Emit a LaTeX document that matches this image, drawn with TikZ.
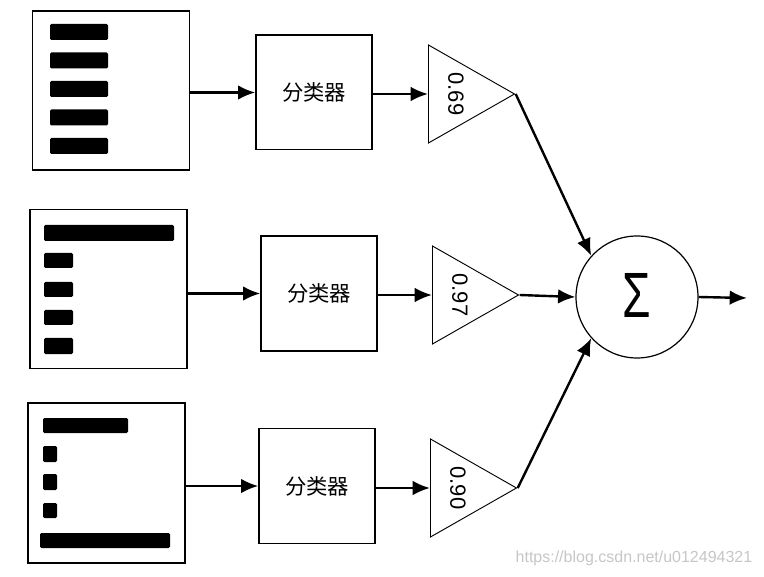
\documentclass[tikz,border=0pt]{standalone}
\usepackage{fontspec}
\setmainfont{Liberation Sans}
\newfontfamily\cjk{Noto Sans CJK SC}
\usetikzlibrary{arrows.meta,shapes.geometric}

\begin{document}
\begin{tikzpicture}[x=0.75pt, y=-0.75pt, every node/.style={font=\fontsize{15}{15}\selectfont}]
  \tikzset{
    inbox/.style={draw, line width=1.2pt, minimum width=118pt, minimum height=119pt, inner sep=0pt},
    clsbox/.style={draw, line width=1pt, minimum width=87pt, minimum height=86pt, font=\cjk\fontsize{16}{16}\selectfont},
    gain/.style={draw, line width=0.7pt, isosceles triangle, isosceles triangle stretches, minimum width=73.5pt, minimum height=64.5pt, inner sep=0pt, anchor=west},
    gaintext/.style={rotate=-90, inner sep=0pt, font=\fontsize{16.5}{16.5}\selectfont},
    bar/.style={fill=black, rounded corners=1pt},
    arr/.style={-{Latex[length=13pt, width=11pt]}, line width=1.8pt}
  }
  \useasboundingbox (0,0) rectangle (764,577);

  % Row 1: five equal bars
  \node[inbox] (in1) at (111,90.5) {};
  \fill[bar] (50,24) rectangle (108,40);
  \fill[bar] (50,52.5) rectangle (108,68.5);
  \fill[bar] (50,81) rectangle (108,97);
  \fill[bar] (50,109.5) rectangle (108,125.5);
  \fill[bar] (50,138) rectangle (108,154);
  \node[clsbox] (cls1) at (314,92.5) {分类器};
  \node[gain] (tri1) at (428,94) {};
  \node[gaintext] (g1) at ([xshift=21pt]tri1.west) {0.69};

  % Row 2: one long bar on top
  \node[inbox] (in2) at (108.5,289) {};
  \fill[bar] (44,225) rectangle (174,241);
  \fill[bar] (44,253) rectangle (73,268);
  \fill[bar] (44,282) rectangle (73,297);
  \fill[bar] (44,310) rectangle (73,325);
  \fill[bar] (44,338) rectangle (73,354);
  \node[clsbox] (cls2) at (319,293.5) {分类器};
  \node[gain] (tri2) at (432,295) {};
  \node[gaintext] (g2) at ([xshift=21pt]tri2.west) {0.97};

  % Row 3: long bar at the bottom
  \node[inbox, minimum height=120pt] (in3) at (106.5,483) {};
  \fill[bar] (43,418) rectangle (128,433);
  \fill[bar] (43,446) rectangle (57,462);
  \fill[bar] (43,474) rectangle (57,490);
  \fill[bar] (43,503) rectangle (57,518);
  \fill[bar] (40,533) rectangle (170,548);
  \node[clsbox] (cls3) at (317,486) {分类器};
  \node[gain] (tri3) at (430,488) {};
  \node[gaintext] (g3) at ([xshift=21pt]tri3.west) {0.90};

  % Sum
  \node[circle, draw, line width=0.9pt, minimum size=91.5pt, inner sep=0pt, font=\fontsize{48}{48}\selectfont] (sum) at (637,297) {\raisebox{3pt}{\scalebox{0.72}[1]{Σ}}};
  \coordinate (out) at (747,298);

  \draw[arr] (in1.east |- cls1.west) -- (cls1.west);
  \draw[arr] (in2.east |- cls2.west) -- (cls2.west);
  \draw[arr] (in3.east |- cls3.west) -- (cls3.west);
  \draw[arr] (cls1.east |- tri1.west) -- (tri1.west);
  \draw[arr] (cls2.east |- tri2.west) -- (tri2.west);
  \draw[arr] (cls3.east |- tri3.west) -- (tri3.west);
  \draw[arr] (tri1.apex) -- (sum.138);
  \draw[arr] (tri2.apex) -- (sum.west);
  \draw[arr] (tri3.apex) -- (sum.222);
  \draw[arr] (sum.east) -- (out);

  \node[anchor=east, text=gray!45, font=\fontsize{12}{12}\selectfont] (mark) at (757,558) {https://blog.csdn.net/u012494321};
\end{tikzpicture}
\end{document}
